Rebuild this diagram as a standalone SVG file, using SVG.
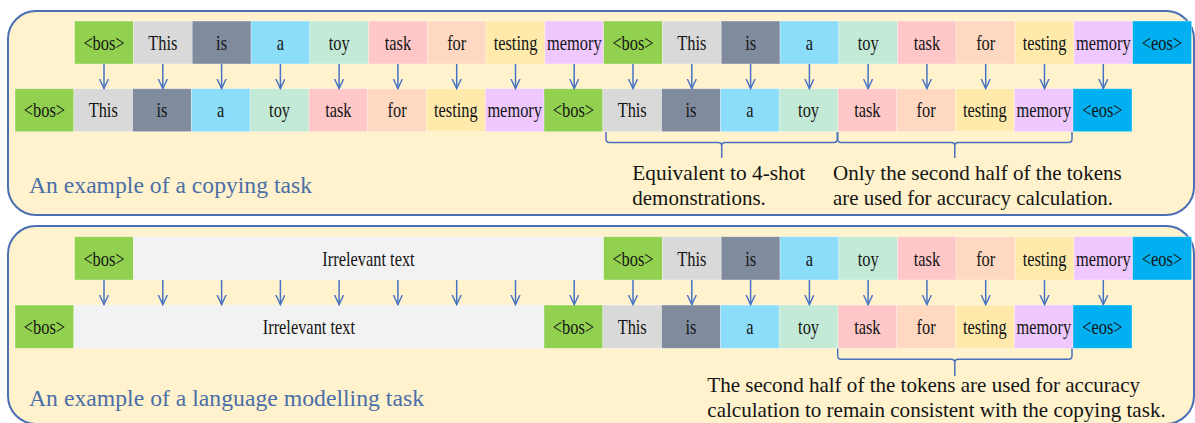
<svg xmlns="http://www.w3.org/2000/svg" width="1195" height="423" viewBox="0 0 1195 423" font-family="'Liberation Serif', 'Times New Roman', serif">
<defs>
<style>
.panel{fill:#FFF2CC;stroke:#4A6FB5;stroke-width:2}
rect.c{stroke:#ffffff;stroke-opacity:.45;stroke-width:.8}
.bos{fill:#92D050}.this{fill:#D9D9D9}.is{fill:#808B9D}.a{fill:#8CDDFA}.toy{fill:#C3EAD6}
.task{fill:#FFC7C7}.for{fill:#FFD8C1}.test{fill:#FFEAAB}.mem{fill:#EFC8FF}.eos{fill:#00B0F0}.irr{fill:#F2F2F2}
text{font-family:'Liberation Serif','Times New Roman',serif}
.tk{font-size:20px;fill:#141414;text-anchor:middle;transform-box:fill-box;transform-origin:center;transform:scaleX(0.82)}
.title{font-size:22.5px;fill:#4A6EA8}
.note{font-size:21px;fill:#141414}
.arr{fill:none;stroke:#4472C4;stroke-width:1.5}
.brace{fill:none;stroke:#4A70BE;stroke-width:1.5}
</style>
<marker id="ah" markerWidth="12" markerHeight="12" refX="10" refY="5" orient="auto" markerUnits="userSpaceOnUse">
<path d="M0.5,0.5 L10,5 L0.5,9.5" fill="none" stroke="#4472C4" stroke-width="1.4"/>
</marker>
</defs>

<g id="panel-copy"><rect class="panel" x="8" y="11" width="1186" height="204" rx="28"/></g>
<g id="panel-lm"><rect class="panel" x="8" y="226" width="1186" height="198" rx="28"/></g>

<!-- copying task: input row -->
<g id="copy-in">
<g id="ci0"><rect class="c bos" x="74.6" y="21" width="59" height="43"/><text class="tk" x="104" y="50">&lt;bos&gt;</text></g>
<g id="ci1"><rect class="c this" x="133.4" y="21" width="59" height="43"/><text class="tk" x="162.8" y="50">This</text></g>
<g id="ci2"><rect class="c is" x="192.2" y="21" width="59" height="43"/><text class="tk" x="221.6" y="50">is</text></g>
<g id="ci3"><rect class="c a" x="251" y="21" width="59" height="43"/><text class="tk" x="280.4" y="50">a</text></g>
<g id="ci4"><rect class="c toy" x="309.7" y="21" width="59" height="43"/><text class="tk" x="339.1" y="50">toy</text></g>
<g id="ci5"><rect class="c task" x="368.5" y="21" width="59" height="43"/><text class="tk" x="397.9" y="50">task</text></g>
<g id="ci6"><rect class="c for" x="427.3" y="21" width="59" height="43"/><text class="tk" x="456.7" y="50">for</text></g>
<g id="ci7"><rect class="c test" x="486.1" y="21" width="59" height="43"/><text class="tk" x="515.5" y="50">testing</text></g>
<g id="ci8"><rect class="c mem" x="544.8" y="21" width="59" height="43"/><text class="tk" x="574.2" y="50">memory</text></g>
<g id="ci9"><rect class="c bos" x="603.6" y="21" width="59" height="43"/><text class="tk" x="633" y="50">&lt;bos&gt;</text></g>
<g id="ci10"><rect class="c this" x="662.4" y="21" width="59" height="43"/><text class="tk" x="691.8" y="50">This</text></g>
<g id="ci11"><rect class="c is" x="721.2" y="21" width="59" height="43"/><text class="tk" x="750.6" y="50">is</text></g>
<g id="ci12"><rect class="c a" x="780" y="21" width="59" height="43"/><text class="tk" x="809.4" y="50">a</text></g>
<g id="ci13"><rect class="c toy" x="838.7" y="21" width="59" height="43"/><text class="tk" x="868.1" y="50">toy</text></g>
<g id="ci14"><rect class="c task" x="897.5" y="21" width="59" height="43"/><text class="tk" x="926.9" y="50">task</text></g>
<g id="ci15"><rect class="c for" x="956.3" y="21" width="59" height="43"/><text class="tk" x="985.7" y="50">for</text></g>
<g id="ci16"><rect class="c test" x="1015.1" y="21" width="59" height="43"/><text class="tk" x="1044.5" y="50">testing</text></g>
<g id="ci17"><rect class="c mem" x="1073.9" y="21" width="59" height="43"/><text class="tk" x="1103.3" y="50">memory</text></g>
<g id="ci18"><rect class="c eos" x="1132.6" y="21" width="59" height="43"/><text class="tk" x="1162" y="50">&lt;eos&gt;</text></g>
</g>

<!-- copying task: output row -->
<g id="copy-out">
<g id="co0"><rect class="c bos" x="15" y="88.7" width="59" height="43"/><text class="tk" x="44.4" y="117">&lt;bos&gt;</text></g>
<g id="co1"><rect class="c this" x="73.8" y="88.7" width="59" height="43"/><text class="tk" x="103.2" y="117">This</text></g>
<g id="co2"><rect class="c is" x="132.6" y="88.7" width="59" height="43"/><text class="tk" x="162" y="117">is</text></g>
<g id="co3"><rect class="c a" x="191.3" y="88.7" width="59" height="43"/><text class="tk" x="220.7" y="117">a</text></g>
<g id="co4"><rect class="c toy" x="250.1" y="88.7" width="59" height="43"/><text class="tk" x="279.5" y="117">toy</text></g>
<g id="co5"><rect class="c task" x="308.9" y="88.7" width="59" height="43"/><text class="tk" x="338.3" y="117">task</text></g>
<g id="co6"><rect class="c for" x="367.7" y="88.7" width="59" height="43"/><text class="tk" x="397.1" y="117">for</text></g>
<g id="co7"><rect class="c test" x="426.5" y="88.7" width="59" height="43"/><text class="tk" x="455.9" y="117">testing</text></g>
<g id="co8"><rect class="c mem" x="485.2" y="88.7" width="59" height="43"/><text class="tk" x="514.6" y="117">memory</text></g>
<g id="co9"><rect class="c bos" x="544" y="88.7" width="59" height="43"/><text class="tk" x="573.4" y="117">&lt;bos&gt;</text></g>
<g id="co10"><rect class="c this" x="602.8" y="88.7" width="59" height="43"/><text class="tk" x="632.2" y="117">This</text></g>
<g id="co11"><rect class="c is" x="661.6" y="88.7" width="59" height="43"/><text class="tk" x="691" y="117">is</text></g>
<g id="co12"><rect class="c a" x="720.4" y="88.7" width="59" height="43"/><text class="tk" x="749.8" y="117">a</text></g>
<g id="co13"><rect class="c toy" x="779.1" y="88.7" width="59" height="43"/><text class="tk" x="808.5" y="117">toy</text></g>
<g id="co14"><rect class="c task" x="837.9" y="88.7" width="59" height="43"/><text class="tk" x="867.3" y="117">task</text></g>
<g id="co15"><rect class="c for" x="896.7" y="88.7" width="59" height="43"/><text class="tk" x="926.1" y="117">for</text></g>
<g id="co16"><rect class="c test" x="955.5" y="88.7" width="59" height="43"/><text class="tk" x="984.9" y="117">testing</text></g>
<g id="co17"><rect class="c mem" x="1014.3" y="88.7" width="59" height="43"/><text class="tk" x="1043.7" y="117">memory</text></g>
<g id="co18"><rect class="c eos" x="1073" y="88.7" width="59" height="43"/><text class="tk" x="1102.4" y="117">&lt;eos&gt;</text></g>
</g>

<!-- language modelling: input row -->
<g id="lm-in">
<g id="li0"><rect class="c bos" x="74.6" y="236.7" width="59" height="43.3"/><text class="tk" x="104" y="266">&lt;bos&gt;</text></g>
<g id="li1"><rect class="c irr" x="133.4" y="236.7" width="470.2" height="43.3"/><text class="tk" x="368.5" y="266">Irrelevant text</text></g>
<g id="li9"><rect class="c bos" x="603.6" y="236.7" width="59" height="43.3"/><text class="tk" x="633" y="266">&lt;bos&gt;</text></g>
<g id="li10"><rect class="c this" x="662.4" y="236.7" width="59" height="43.3"/><text class="tk" x="691.8" y="266">This</text></g>
<g id="li11"><rect class="c is" x="721.2" y="236.7" width="59" height="43.3"/><text class="tk" x="750.6" y="266">is</text></g>
<g id="li12"><rect class="c a" x="780" y="236.7" width="59" height="43.3"/><text class="tk" x="809.4" y="266">a</text></g>
<g id="li13"><rect class="c toy" x="838.7" y="236.7" width="59" height="43.3"/><text class="tk" x="868.1" y="266">toy</text></g>
<g id="li14"><rect class="c task" x="897.5" y="236.7" width="59" height="43.3"/><text class="tk" x="926.9" y="266">task</text></g>
<g id="li15"><rect class="c for" x="956.3" y="236.7" width="59" height="43.3"/><text class="tk" x="985.7" y="266">for</text></g>
<g id="li16"><rect class="c test" x="1015.1" y="236.7" width="59" height="43.3"/><text class="tk" x="1044.5" y="266">testing</text></g>
<g id="li17"><rect class="c mem" x="1073.9" y="236.7" width="59" height="43.3"/><text class="tk" x="1103.3" y="266">memory</text></g>
<g id="li18"><rect class="c eos" x="1132.6" y="236.7" width="59" height="43.3"/><text class="tk" x="1162" y="266">&lt;eos&gt;</text></g>
</g>

<!-- language modelling: output row -->
<g id="lm-out">
<g id="lo0"><rect class="c bos" x="15" y="305" width="59" height="43.3"/><text class="tk" x="44.4" y="334">&lt;bos&gt;</text></g>
<g id="lo1"><rect class="c irr" x="73.8" y="305" width="470.2" height="43.3"/><text class="tk" x="308.9" y="334">Irrelevant text</text></g>
<g id="lo9"><rect class="c bos" x="544" y="305" width="59" height="43.3"/><text class="tk" x="573.4" y="334">&lt;bos&gt;</text></g>
<g id="lo10"><rect class="c this" x="602.8" y="305" width="59" height="43.3"/><text class="tk" x="632.2" y="334">This</text></g>
<g id="lo11"><rect class="c is" x="661.6" y="305" width="59" height="43.3"/><text class="tk" x="691" y="334">is</text></g>
<g id="lo12"><rect class="c a" x="720.4" y="305" width="59" height="43.3"/><text class="tk" x="749.8" y="334">a</text></g>
<g id="lo13"><rect class="c toy" x="779.1" y="305" width="59" height="43.3"/><text class="tk" x="808.5" y="334">toy</text></g>
<g id="lo14"><rect class="c task" x="837.9" y="305" width="59" height="43.3"/><text class="tk" x="867.3" y="334">task</text></g>
<g id="lo15"><rect class="c for" x="896.7" y="305" width="59" height="43.3"/><text class="tk" x="926.1" y="334">for</text></g>
<g id="lo16"><rect class="c test" x="955.5" y="305" width="59" height="43.3"/><text class="tk" x="984.9" y="334">testing</text></g>
<g id="lo17"><rect class="c mem" x="1014.3" y="305" width="59" height="43.3"/><text class="tk" x="1043.7" y="334">memory</text></g>
<g id="lo18"><rect class="c eos" x="1073" y="305" width="59" height="43.3"/><text class="tk" x="1102.4" y="334">&lt;eos&gt;</text></g>
</g>

<!-- connectors -->
<g id="connectors" class="arr" marker-end="url(#ah)">
<path d="M104,64V88.5"/><path d="M162.8,64V88.5"/><path d="M221.6,64V88.5"/><path d="M280.4,64V88.5"/><path d="M339.1,64V88.5"/><path d="M397.9,64V88.5"/>
<path d="M456.7,64V88.5"/><path d="M515.5,64V88.5"/><path d="M574.2,64V88.5"/><path d="M633,64V88.5"/><path d="M691.8,64V88.5"/><path d="M750.6,64V88.5"/>
<path d="M809.4,64V88.5"/><path d="M868.1,64V88.5"/><path d="M926.9,64V88.5"/><path d="M985.7,64V88.5"/><path d="M1044.5,64V88.5"/><path d="M1103.3,64V88.5"/>
<path d="M104,280V304.5"/><path d="M162.8,280V304.5"/><path d="M221.6,280V304.5"/><path d="M280.4,280V304.5"/><path d="M339.1,280V304.5"/><path d="M397.9,280V304.5"/>
<path d="M456.7,280V304.5"/><path d="M515.5,280V304.5"/><path d="M574.2,280V304.5"/><path d="M633,280V304.5"/><path d="M691.8,280V304.5"/><path d="M750.6,280V304.5"/>
<path d="M809.4,280V304.5"/><path d="M868.1,280V304.5"/><path d="M926.9,280V304.5"/><path d="M985.7,280V304.5"/><path d="M1044.5,280V304.5"/><path d="M1103.3,280V304.5"/>
</g>

<g id="braces" class="brace">
<path d="M606,132V139Q606,142.5 609.5,142.5H718.2Q721.7,142.5 721.7,146V158M721.7,146Q721.7,142.5 725.2,142.5H833.8Q837.3,142.5 837.3,139V132"/>
<path d="M837.7,132V139Q837.7,142.5 841.2,142.5H951.3Q954.8,142.5 954.8,146V158M954.8,146Q954.8,142.5 958.3,142.5H1068.5Q1072,142.5 1072,139V132"/>
<path d="M837.7,348.5V355.8Q837.7,359.3 841.2,359.3H951.3Q954.8,359.3 954.8,362.8V376M954.8,362.8Q954.8,359.3 958.3,359.3H1068.5Q1072,359.3 1072,355.8V348.5"/>
</g>

<g id="labels">
<text class="title" x="29" y="193" textLength="283" lengthAdjust="spacingAndGlyphs">An example of a copying task</text>
<text class="title" x="29" y="406" textLength="395" lengthAdjust="spacingAndGlyphs">An example of a language modelling task</text>
<text class="note" x="632.3" y="180" textLength="173" lengthAdjust="spacingAndGlyphs">Equivalent to 4-shot</text>
<text class="note" x="632.3" y="205">demonstrations.</text>
<text class="note" x="833" y="180" textLength="288.7" lengthAdjust="spacingAndGlyphs">Only the second half of the tokens</text>
<text class="note" x="833" y="205" textLength="280" lengthAdjust="spacingAndGlyphs">are used for accuracy calculation.</text>
<text class="note" x="707.3" y="391.7" textLength="432.7" lengthAdjust="spacingAndGlyphs">The second half of the tokens are used for accuracy</text>
<text class="note" x="707.3" y="416.7" textLength="458.4" lengthAdjust="spacingAndGlyphs">calculation to remain consistent with the copying task.</text>
</g>
</svg>
